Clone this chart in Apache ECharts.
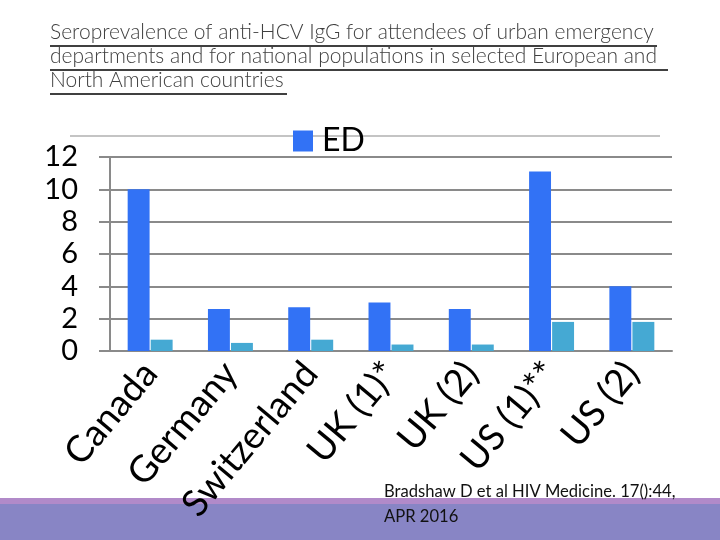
<!DOCTYPE html>
<html>
<head>
<meta charset="utf-8">
<script src="https://cdn.jsdelivr.net/npm/echarts@6/dist/echarts.min.js"></script>
<style>html,body{margin:0;padding:0;background:#fff}#c{width:720px;height:540px}</style>
</head>
<body>
<div id="c"></div>
<script>
var categories = ['Canada', 'Germany', 'Switzerland', 'UK (1)*', 'UK (2)', 'US (1)**', 'US (2)'];
var edValues = [10.0, 2.6, 2.7, 3.0, 2.6, 11.1, 4.0];
var nationalValues = [0.7, 0.5, 0.7, 0.4, 0.4, 1.8, 1.8];
var yTicks = [0, 2, 4, 6, 8, 10, 12];
var titleLines = [
  'Seroprevalence of anti-HCV IgG for attendees of urban emergency',
  'departments and for national populations in selected European and',
  'North American countries'
];
var citation = ['Bradshaw D et al HIV Medicine. 17():44,', 'APR 2016'];

var chart = echarts.init(document.getElementById('c'));
var gridColor = '#8a8a8a';
var titleFont = 'Lato';
var graphics = [
  {type: 'rect', z: -10, shape: {x: 0, y: 498, width: 720, height: 6}, style: {fill: '#B18AC9'}},
  {type: 'rect', z: -10, shape: {x: 0, y: 504, width: 720, height: 36}, style: {fill: '#8885C5'}},
  {type: 'line', z: -5, shape: {x1: 70, y1: 136, x2: 660, y2: 136}, style: {stroke: '#8a8a8a', lineWidth: 1.2}}
];
var ulWidths = [607, 618, 237];
titleLines.forEach(function (t, i) {
  graphics.push({type: 'text', left: 50, top: 22 + i * 24, style: {text: t, fill: '#404040', font: '300 21px ' + titleFont}});
  graphics.push({type: 'rect', shape: {x: 50, y: 45 + i * 24, width: ulWidths[i], height: 2}, style: {fill: '#404040'}});
});
citation.forEach(function (t, i) {
  graphics.push({type: 'text', z: 10, left: 384, top: 483 + i * 25, style: {text: t, fill: '#111', font: '16.6px Lato'}});
});

chart.setOption({
  animation: false,
  backgroundColor: '#fff',
  grid: {left: 110, right: 48, top: 157, bottom: 189},
  legend: {
    data: ['ED'], left: 288, top: 120, itemWidth: 20, itemHeight: 21, itemGap: 10,
    icon: 'rect', textStyle: {fontSize: 32, color: '#000', fontFamily: 'Lato', padding: [0, 0, 0, 4]}
  },
  xAxis: {
    type: 'category', data: categories,
    axisLine: {lineStyle: {color: gridColor, width: 2}},
    axisTick: {length: 11, lineStyle: {color: gridColor, width: 2}},
    axisLabel: {rotate: 50, fontSize: 37, color: '#000', fontFamily: 'Lato', margin: 16, interval: 0}
  },
  yAxis: {
    type: 'value', min: yTicks[0], max: yTicks[yTicks.length - 1], interval: yTicks[1] - yTicks[0],
    axisLine: {show: true, lineStyle: {color: gridColor, width: 2}},
    axisTick: {show: true, length: 11, lineStyle: {color: gridColor, width: 2}},
    splitLine: {lineStyle: {color: gridColor, width: 2}},
    axisLabel: {fontSize: 29, color: '#000', fontFamily: 'Lato', margin: 32}
  },
  series: [
    {name: 'ED', type: 'bar', data: edValues, barGap: '5%', barCategoryGap: '44%', itemStyle: {color: '#3272F5'}},
    {name: 'National population', type: 'bar', data: nationalValues, itemStyle: {color: '#45A9D3'}}
  ],
  graphic: graphics
});
</script>
</body>
</html>
